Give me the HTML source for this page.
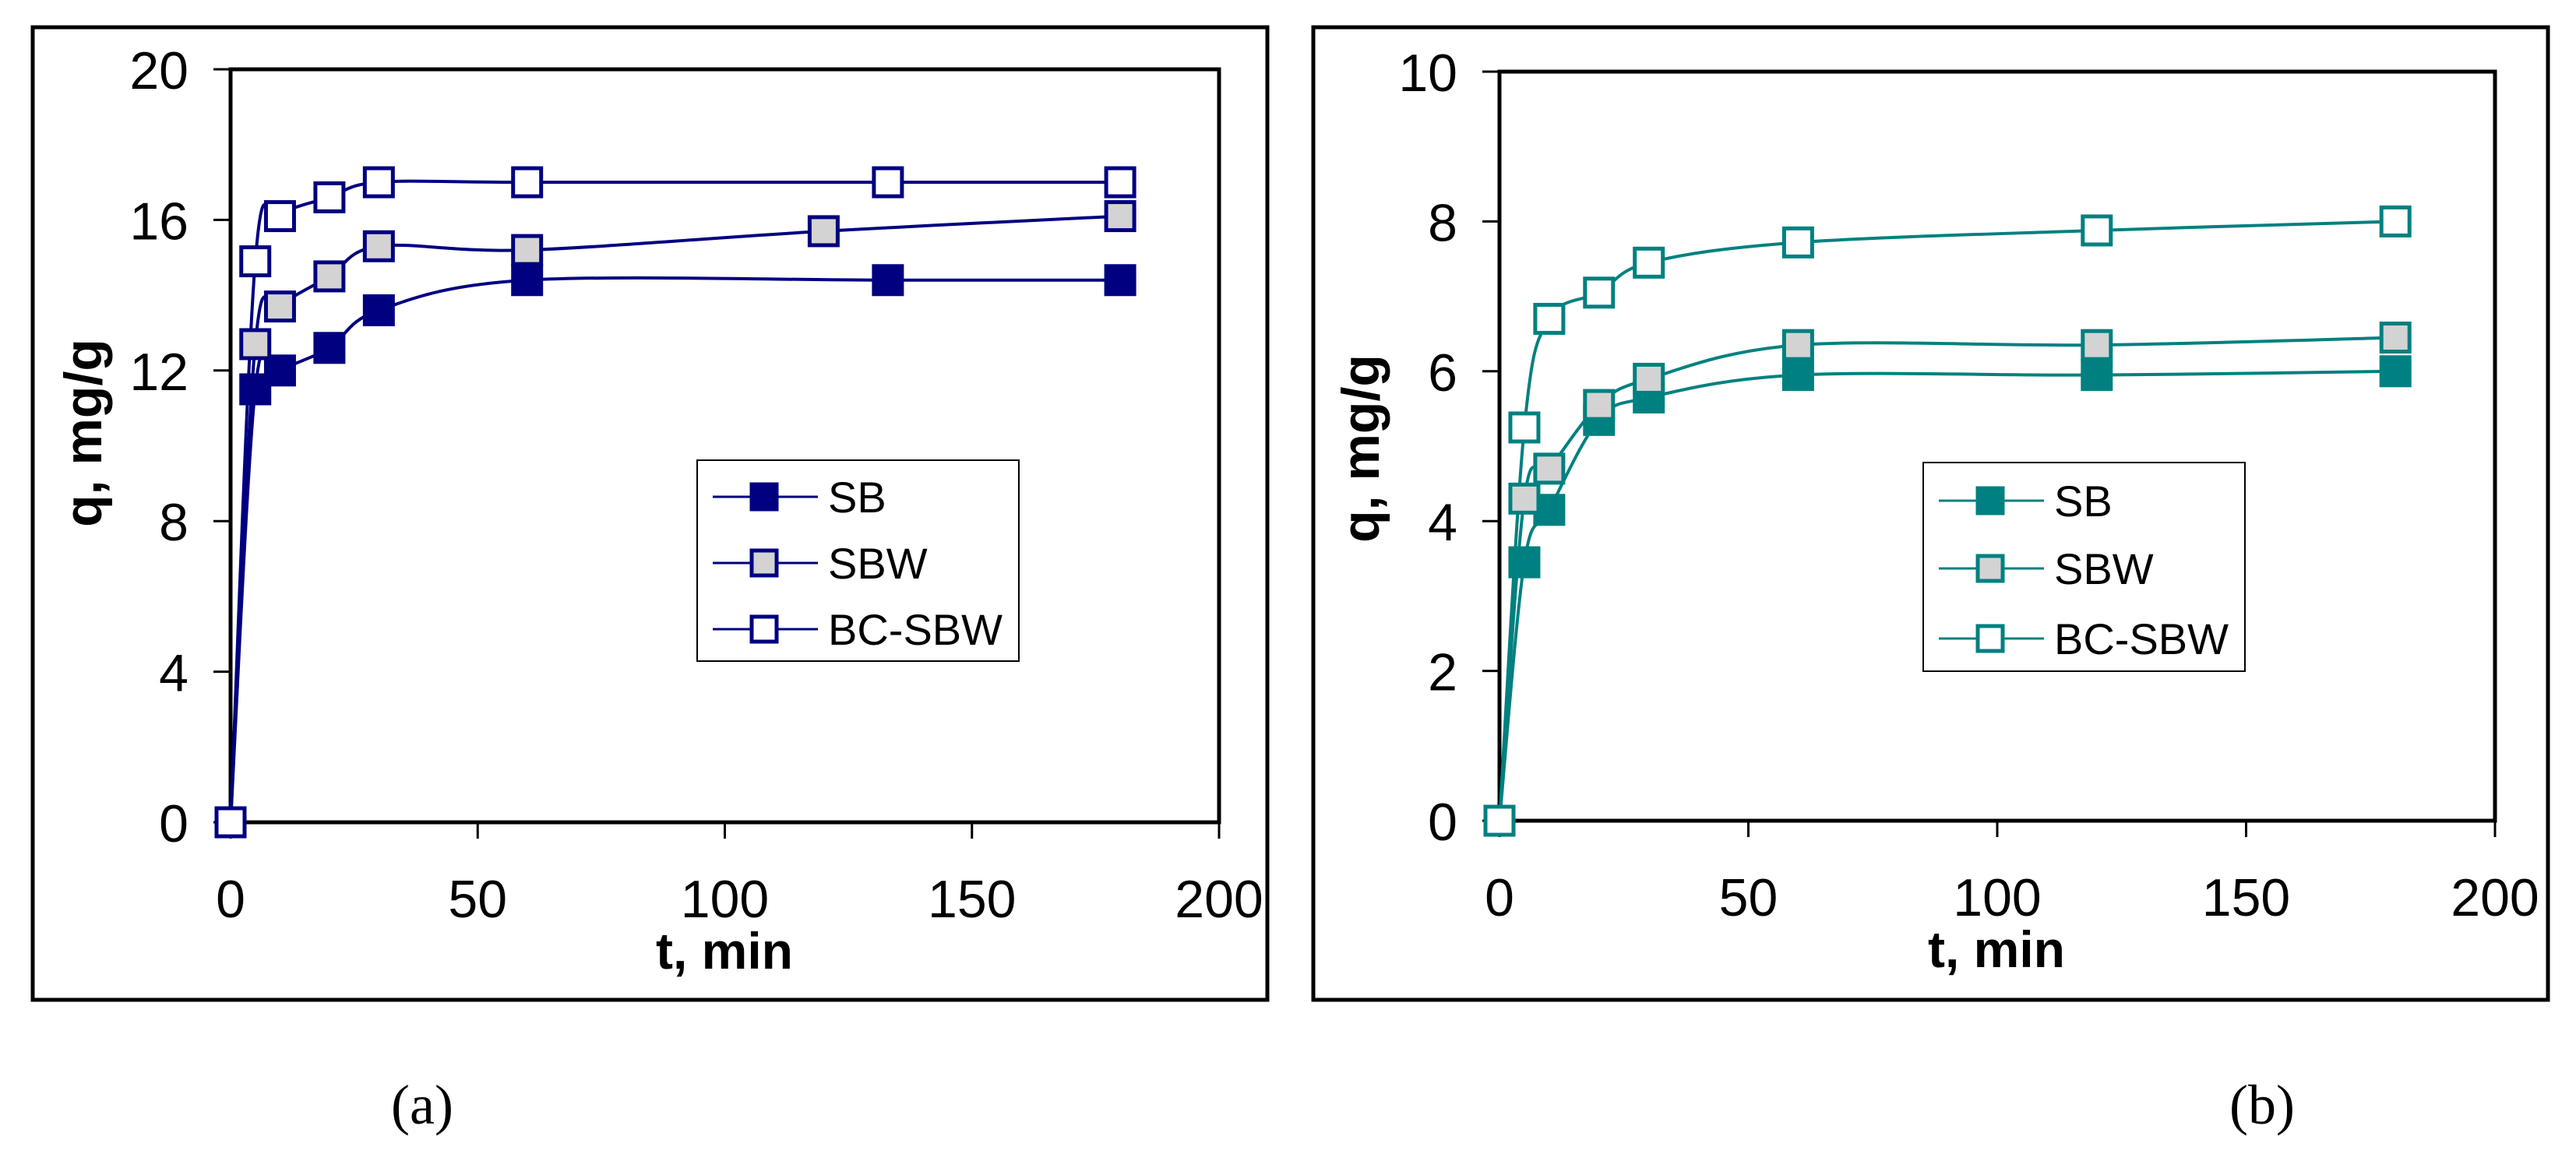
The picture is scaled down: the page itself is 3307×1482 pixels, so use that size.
<!DOCTYPE html>
<html><head><meta charset="utf-8"><style>
html,body{margin:0;padding:0;background:#fff;}
svg{display:block;}
text{font-family:"Liberation Sans",Arial,sans-serif;}
</style></head><body>
<svg id="chart" width="3307" height="1482" viewBox="0 0 3307 1482" xmlns="http://www.w3.org/2000/svg">
<rect width="3307" height="1482" fill="#fff"/>
</svg>
<script>
// ---- data ----
const seriesNames = ["SB", "SBW", "BC-SBW"];
const xTicks = [0, 50, 100, 150, 200];
const yTicksA = [0, 4, 8, 12, 16, 20];
const yTicksB = [0, 2, 4, 6, 8, 10];
const tA_SB = [0, 5, 10, 20, 30, 60, 133, 180];
const qA_SB = [0, 11.5, 12.0, 12.6, 13.6, 14.4, 14.4, 14.4];
const tA_SBW = [0, 5, 10, 20, 30, 60, 120, 180];
const qA_SBW = [0, 12.7, 13.7, 14.5, 15.3, 15.2, 15.7, 16.1];
const tA_BC = [0, 5, 10, 20, 30, 60, 133, 180];
const qA_BC = [0, 14.9, 16.1, 16.6, 17.0, 17.0, 17.0, 17.0];
const tB = [0, 5, 10, 20, 30, 60, 120, 180];
const qB_SB = [0, 3.45, 4.15, 5.35, 5.65, 5.95, 5.95, 6.0];
const qB_SBW = [0, 4.3, 4.7, 5.55, 5.9, 6.35, 6.35, 6.45];
const qB_BC = [0, 5.25, 6.7, 7.05, 7.45, 7.72, 7.88, 8.0];

const NS = "http://www.w3.org/2000/svg";
const svg = document.getElementById('chart');
function mk(tag, attrs, parent){
  const e = document.createElementNS(NS, tag);
  for (const k in attrs) e.setAttribute(k, attrs[k]);
  (parent||svg).appendChild(e);
  return e;
}
function smooth(pts){
  let d = `M${pts[0][0]},${pts[0][1]}`;
  const t = 0.5/3;
  for (let i=0;i<pts.length-1;i++){
    const p0=pts[Math.max(i-1,0)], p1=pts[i], p2=pts[i+1], p3=pts[Math.min(i+2,pts.length-1)];
    const c1=[p1[0]+(p2[0]-p0[0])*t, p1[1]+(p2[1]-p0[1])*t];
    const c2=[p2[0]-(p3[0]-p1[0])*t, p2[1]-(p3[1]-p1[1])*t];
    d += ` C${c1[0]},${c1[1]} ${c2[0]},${c2[1]} ${p2[0]},${p2[1]}`;
  }
  return d;
}
function panel(cfg){
  const g = mk('g', {});
  
  
  const fr = mk('rect', {x:cfg.fx, y:35, width:cfg.fw, height:1249, fill:'none', stroke:'#000', 'stroke-width':5}, g);
  
  
  const L=cfg.L, R=cfg.R, T=cfg.T, B=cfg.B;
  const xs = v => L + (v-0)/200*(R-L);
  const ys = v => B - v/cfg.ymax*(B-T);
  const pa = mk('rect', {x:L, y:T, width:R-L, height:B-T, fill:'none', stroke:'#000', 'stroke-width':5}, g);
  
  
  cfg.yTicks.forEach(v=>{
    const tk = mk('line', {x1:L-22, x2:L, y1:ys(v), y2:ys(v), stroke:'#000', 'stroke-width':3}, g);
    
    
    const tl = mk('text', {x:L-54, y:ys(v)+25, 'text-anchor':'end', 'font-size':68}, g);
    
    
    tl.textContent = v;
  });
  xTicks.forEach(v=>{
    const tk = mk('line', {x1:xs(v), x2:xs(v), y1:B, y2:B+21, stroke:'#000', 'stroke-width':3}, g);
    
    
    const tl = mk('text', {x:xs(v), y:B+122, 'text-anchor':'middle', 'font-size':68}, g);
    
    
    tl.textContent = v;
  });
  const xt = mk('text', {x:cfg.xtx, y:B+188, 'text-anchor':'middle', 'font-size':66, 'font-weight':'bold'}, g);
  
  
  xt.textContent = 't, min';
  const yt = mk('text', {x:0, y:0, 'text-anchor':'middle', 'font-size':68, 'font-weight':'bold', transform:`translate(${cfg.ytx},${cfg.yty}) rotate(-90)`}, g);
  
  
  yt.textContent = 'q, mg/g';
  const fills = [cfg.color, '#d3d3d3', '#fff'];
  const S = 36;
  cfg.series.forEach((s, i)=>{
    const pts = s.t.map((tv, j)=>[xs(tv), ys(s.q[j])]);
    const ln = mk('path', {d:smooth(pts), fill:'none', stroke:cfg.color, 'stroke-width':4}, g);
    
    
  });
  cfg.series.forEach((s, i)=>{
    s.t.forEach((tv, j)=>{
      const m = mk('rect', {x:xs(tv)-S/2, y:ys(s.q[j])-S/2, width:S, height:S, fill:fills[i], stroke:cfg.color, 'stroke-width':5}, g);
      
      
    });
  });
  const lg = mk('g', {}, g);
  
  
  const lb = mk('rect', {x:cfg.lx, y:cfg.ly, width:413, height:cfg.lh, fill:'#fff', stroke:'#000', 'stroke-width':2}, lg);
  
  
  seriesNames.forEach((n, i)=>{
    const y = cfg.ley[i];
    const e = mk('g', {}, lg);
    
    
    mk('line', {x1:cfg.lx+20, x2:cfg.lx+155, y1:y, y2:y, stroke:cfg.color, 'stroke-width':3}, e);
    mk('rect', {x:cfg.lx+86-S/2+2, y:y-S/2+2, width:S-4, height:S-4, fill:fills[i], stroke:cfg.color, 'stroke-width':5}, e);
    const tx = mk('text', {x:cfg.lx+168, y:y+20, 'font-size':56}, e);
    tx.textContent = n;
  });
  const cap = mk('text', {x:cfg.capx, y:1443, 'text-anchor':'middle', 'font-size':72}, g);
  
  
  cap.style.fontFamily = '"Liberation Serif", serif';
  cap.textContent = cfg.cap;
}
panel({name:'panel-a', fx:42, fw:1585, L:296, R:1565, T:89, B:1056, ymax:20, yTicks:yTicksA,
  color:'#000080', xtx:930, ytx:130, yty:556,
  series:[{t:tA_SB,q:qA_SB},{t:tA_SBW,q:qA_SBW},{t:tA_BC,q:qA_BC}],
  lx:895, ly:591, lh:258, ley:[638,723,808], capx:542, cap:'(a)'});
panel({name:'panel-b', fx:1686, fw:1585, L:1925, R:3203, T:92, B:1054, ymax:10, yTicks:yTicksB,
  color:'#008080', xtx:2563, ytx:1770, yty:576,
  series:[{t:tB,q:qB_SB},{t:tB,q:qB_SBW},{t:tB,q:qB_BC}],
  lx:2469, ly:594, lh:268, ley:[643,730,820], capx:2904, cap:'(b)'});
</script>
</body></html>
